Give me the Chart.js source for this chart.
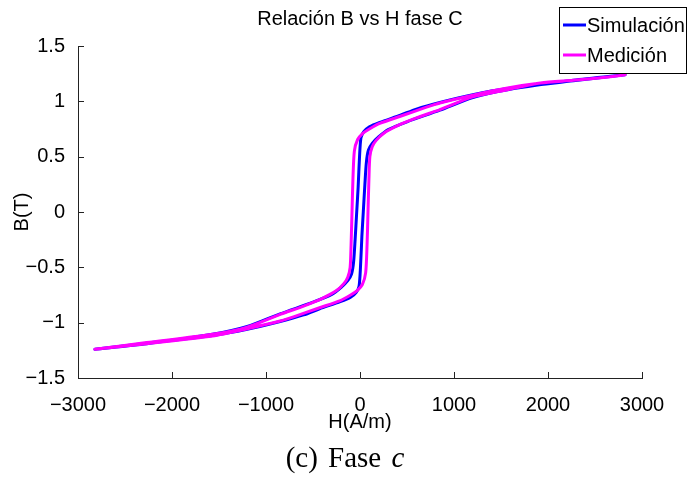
<!DOCTYPE html>
<html>
<head>
<meta charset="utf-8">
<script src="https://cdn.jsdelivr.net/npm/chart.js@4/dist/chart.umd.min.js"></script>
<style>
  body { margin: 0; background: #fff; }
  #wrap { position: relative; width: 688px; height: 482px; }
  #caption {
    position: absolute; left: 0; top: 443px; width: 690px;
    text-align: center; font: 29px "Liberation Serif", "DejaVu Serif", serif;
    line-height: 29px; color: #000; word-spacing: 3px;
  }
</style>
</head>
<body>
<div id="wrap">
  <canvas id="chart" width="688" height="482"></canvas>
  <div id="caption">(c) Fase <i>c</i></div>
</div>
<script>
// Data: H in A/m, B in T
// Simulación, descending branch (H from +max to -max)
const simDownH = [2820, 2270, 1570, 1200, 850, 600, 430, 210, 100, 40, 10, -5, -20, -35, -52, -68, -90, -130, -200, -300, -500, -850, -1200, -1570, -2270, -2820];
const simDownB = [1.24, 1.185, 1.115, 1.06, 0.99, 0.93, 0.875, 0.81, 0.77, 0.725, 0.67, 0.50, 0.22, 0.00, -0.25, -0.45, -0.56, -0.62, -0.68, -0.745, -0.815, -0.92, -1.035, -1.105, -1.19, -1.24];
// Simulación, ascending branch
const simUpH = [-2820, -2270, -1570, -1200, -850, -600, -430, -210, -100, -40, -10, 5, 20, 35, 52, 68, 90, 130, 200, 300, 500, 850, 1200, 1570, 2270, 2820];
const simUpB = [-1.24, -1.185, -1.115, -1.06, -0.99, -0.93, -0.875, -0.81, -0.77, -0.725, -0.67, -0.50, -0.22, 0.00, 0.25, 0.45, 0.56, 0.62, 0.68, 0.745, 0.815, 0.92, 1.035, 1.105, 1.19, 1.24];

// Medición, descending branch
const medDownH = [2820, 2640, 2270, 1920, 1570, 1200, 850, 700, 430, 210, 100, 30, -25, -60, -75, -85, -95, -105, -130, -170, -250, -400, -600, -850, -1200, -1570, -2270, -2820];
const medDownB = [1.24, 1.22, 1.19, 1.165, 1.12, 1.055, 0.985, 0.945, 0.865, 0.80, 0.75, 0.71, 0.655, 0.55, 0.30, 0.00, -0.30, -0.50, -0.59, -0.645, -0.71, -0.78, -0.85, -0.925, -1.04, -1.105, -1.18, -1.24];
// Medición, ascending branch
const medUpH = [-2820, -2270, -1570, -1200, -850, -700, -430, -210, -100, -30, 25, 60, 75, 85, 95, 105, 130, 170, 250, 400, 600, 850, 1200, 1570, 1920, 2270, 2640, 2820];
const medUpB = [-1.24, -1.19, -1.12, -1.055, -0.985, -0.945, -0.865, -0.80, -0.75, -0.71, -0.655, -0.55, -0.30, 0.00, 0.30, 0.50, 0.59, 0.645, 0.71, 0.78, 0.85, 0.925, 1.04, 1.105, 1.165, 1.19, 1.22, 1.24];

const seriesNames = ['Simulación', 'Medición'];
const xTicks = [-3000, -2000, -1000, 0, 1000, 2000, 3000];
const yTicks = [-1.5, -1, -0.5, 0, 0.5, 1, 1.5];

const SANS = '"Liberation Sans", Arial, sans-serif';
const TICK_LEN = 6;

// Build point lists (descending branch followed by ascending branch)
function toPoints(hs, bs) {
    return hs.map((h, i) => ({ x: h, y: bs[i] }));
}

function fmt(v) {
    return String(v).replace('-', '\u2212');
}

// Inward tick marks (MATLAB style)
const inwardTicks = {
    id: 'inwardTicks',
    afterDraw(chart) {
        const { ctx, chartArea } = chart;
        const xs = chart.scales.x;
        const ys = chart.scales.y;
        ctx.save();
        ctx.strokeStyle = '#222';
        ctx.lineWidth = 1;
        ctx.beginPath();
        xs.ticks.forEach(t => {
            const px = Math.round(xs.getPixelForValue(t.value)) + 0.5;
            ctx.moveTo(px, chartArea.bottom);
            ctx.lineTo(px, chartArea.bottom - TICK_LEN);
        });
        ys.ticks.forEach(t => {
            const py = Math.round(ys.getPixelForValue(t.value)) + 0.5;
            ctx.moveTo(chartArea.left, py);
            ctx.lineTo(chartArea.left + TICK_LEN, py);
        });
        ctx.stroke();
        ctx.restore();
    }
};

// Boxed legend in the top right corner
const boxLegend = {
    id: 'boxLegend',
    afterDraw(chart) {
        const ctx = chart.ctx;
        const box = { x: 559.5, y: 7.5, w: 127, h: 66 };
        ctx.save();
        ctx.fillStyle = '#fff';
        ctx.fillRect(box.x, box.y, box.w, box.h);
        ctx.strokeStyle = '#000';
        ctx.lineWidth = 1;
        ctx.strokeRect(box.x, box.y, box.w, box.h);
        ctx.font = '20px ' + SANS;
        ctx.textBaseline = 'middle';
        ctx.fillStyle = '#000';
        seriesNames.forEach((name, i) => {
            const ds = chart.data.datasets.find(d => d.label === name);
            const cy = 25 + i * 30;
            ctx.strokeStyle = ds.borderColor;
            ctx.lineWidth = 3;
            ctx.beginPath();
            ctx.moveTo(563, cy);
            ctx.lineTo(586, cy);
            ctx.stroke();
            ctx.fillText(name, 587, cy + 1);
        });
        ctx.restore();
    }
};

const ctx = document.getElementById('chart').getContext('2d');
new Chart(ctx, {
    type: 'scatter',
    data: {
        datasets: [
            {
                label: seriesNames[0],
                data: toPoints(simDownH.concat(simUpH), simDownB.concat(simUpB)),
                borderColor: '#0000ff',
                backgroundColor: '#0000ff',
                order: 1
            },
            {
                label: seriesNames[1],
                data: toPoints(medDownH.concat(medUpH), medDownB.concat(medUpB)),
                borderColor: '#ff00ff',
                backgroundColor: '#ff00ff',
                order: 0
            }
        ]
    },
    options: {
        responsive: false,
        animation: false,
        devicePixelRatio: 1,
        layout: { padding: { left: 0, right: 46, top: 0, bottom: 0 } },
        elements: {
            point: { radius: 0, hoverRadius: 0 },
            line: { borderWidth: 3, tension: 0.25, fill: false, borderCapStyle: 'round', borderJoinStyle: 'round' }
        },
        datasets: { scatter: { showLine: true } },
        plugins: {
            legend: { display: false },
            tooltip: { enabled: false },
            title: {
                display: true,
                text: 'Relación B vs H fase C',
                fullSize: false,
                color: '#000',
                font: { family: SANS, size: 20, weight: 'normal' },
                padding: { top: 7, bottom: 15 }
            }
        },
        scales: {
            x: {
                type: 'linear',
                min: -3000,
                max: 3000,
                afterBuildTicks: s => { s.ticks = xTicks.map(v => ({ value: v })); },
                afterFit: s => { s.height = 104; },
                grid: { display: false },
                border: { display: true, color: '#222', width: 1 },
                ticks: {
                    autoSkip: false,
                    maxRotation: 0,
                    padding: 7,
                    color: '#000',
                    font: { family: SANS, size: 20 },
                    callback: v => fmt(v)
                },
                title: {
                    display: true,
                    text: 'H(A/m)',
                    color: '#000',
                    font: { family: SANS, size: 20 },
                    padding: { top: 0, bottom: 48 }
                }
            },
            y: {
                type: 'linear',
                min: -1.5,
                max: 1.5,
                afterBuildTicks: s => { s.ticks = yTicks.map(v => ({ value: v })); },
                afterFit: s => { s.width = 78; },
                grid: { display: false },
                border: { display: true, color: '#222', width: 1 },
                ticks: {
                    autoSkip: false,
                    padding: 5,
                    color: '#000',
                    font: { family: SANS, size: 20 },
                    callback: v => fmt(v)
                },
                title: {
                    display: true,
                    text: 'B(T)',
                    color: '#000',
                    font: { family: SANS, size: 20 },
                    padding: { top: 10, bottom: 0 }
                }
            }
        }
    },
    plugins: [inwardTicks, boxLegend]
});
</script>
</body>
</html>
